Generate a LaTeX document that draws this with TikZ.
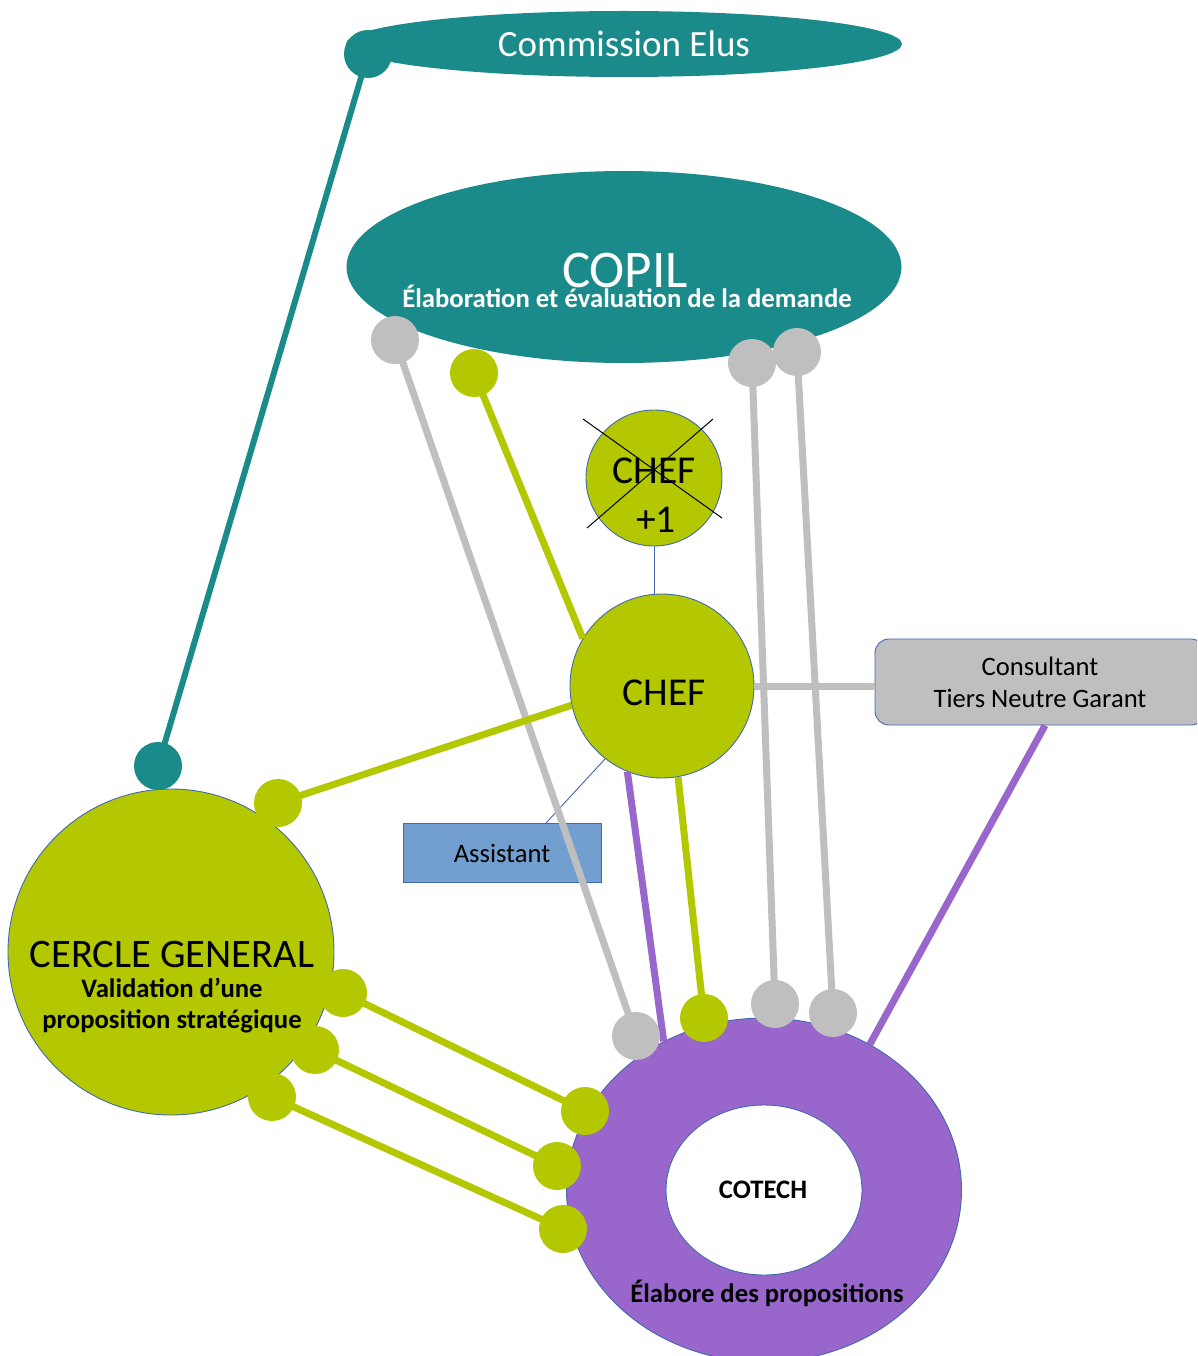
\documentclass[tikz,border=0pt]{standalone}
\usepackage{fontspec}
\setmainfont{Carlito}
\usetikzlibrary{shapes.geometric}
\definecolor{tealc}{RGB}{27,138,138}
\definecolor{limec}{RGB}{179,200,0}
\definecolor{grayc}{RGB}{191,191,191}
\definecolor{purpc}{RGB}{153,102,204}
\definecolor{asstc}{RGB}{114,159,207}
\definecolor{edgec}{RGB}{65,105,175}
\begin{document}
\begin{tikzpicture}[x=1pt,y=-1pt,
  dot/.style={circle,minimum size=48pt,inner sep=0pt},
  gdot/.style={dot,fill=grayc},
  ldot/.style={dot,fill=limec},
  tdot/.style={dot,fill=tealc},
  conn/.style={line width=7pt},
  outl/.style={draw=edgec,line width=0.9pt},
  fine/.style={draw=edgec,line width=0.9pt},
  small/.style={font=\fontsize{26.6}{32}\selectfont},
  smallb/.style={font=\fontsize{26.7}{32}\selectfont\bfseries},
  big/.style={font=\fontsize{39.5}{46}\selectfont},
]
\fill[white] (0,0) rectangle (1197,1356);
\clip (0,0) rectangle (1197,1356);

% main shapes
\node[ellipse,fill=tealc,minimum width=556pt,minimum height=66pt,inner sep=0pt,
  text=white,font=\fontsize{37}{42}\selectfont] (elus) at (624,44) {Commission Elus};
\node[ellipse,fill=tealc,minimum width=555pt,minimum height=192pt,inner sep=0pt] (copil) at (624,267) {};
\node[anchor=base,text=white,font=\fontsize{53}{60}\selectfont] (copilt) at (625,287) {COPIL};
\node[anchor=base,text=white,smallb] (copils) at (627,307) {Élaboration et évaluation de la demande};

\node[circle,fill=limec,outl,minimum size=136pt,inner sep=0pt] (chefp) at (654,478) {};
\node[anchor=base,big] (chefpa) at (654,483) {CHEF};
\node[anchor=base,big] (chefpb) at (656,532) {+1};
\draw[black,line width=1pt] (583,419) -- (722,518);
\draw[black,line width=1pt] (713,419) -- (587,528);

\node[circle,fill=limec,outl,minimum size=184pt,inner sep=0pt] (chef) at (662,686) {};
\node[anchor=base,big] (cheft) at (664,705) {CHEF};

\node[rectangle,rounded corners=14pt,fill=grayc,outl,minimum width=330pt,minimum height=86pt,
  inner sep=0pt,align=center,small] (cons) at (1040,682) {Consultant\\Tiers Neutre Garant};

\node[rectangle,fill=asstc,outl,minimum width=198pt,minimum height=59pt,inner sep=0pt,small] (asst) at (502,853) {Assistant};

\node[circle,fill=limec,outl,minimum size=326pt,inner sep=0pt] (cercle) at (171,952) {};
\node[anchor=base,font=\fontsize{40.5}{46}\selectfont] (cerclet) at (172,967) {CERCLE GENERAL};
\node[anchor=base,smallb] (cerclev) at (172,997) {Validation d’une};
\node[anchor=base,smallb] (cerclep) at (172,1028) {proposition stratégique};

\node[ellipse,fill=purpc,outl,minimum width=395pt,minimum height=344pt,inner sep=0pt] (cotech) at (764,1190) {};
\node[ellipse,fill=white,outl,minimum width=196pt,minimum height=170pt,inner sep=0pt] (cotechin) at (764,1190) {};
\node[anchor=base,smallb] (cotecht) at (763,1198) {COTECH};
\node[anchor=base,smallb] (cotechp) at (767,1302) {Élabore des propositions};

% dot positions
\path
  (368,54) coordinate (pe)
  (158,766) coordinate (pc)
  (395,340) coordinate (pg1)
  (474,373) coordinate (pl1)
  (752,363) coordinate (pg2)
  (797,352) coordinate (pg3)
  (636,1036) coordinate (pk1)
  (704,1018) coordinate (pk2)
  (775,1004) coordinate (pk3)
  (833,1013) coordinate (pk4)
  (278,803) coordinate (pl2)
  (343,993) coordinate (pc1)
  (315,1050) coordinate (pc2)
  (272,1097) coordinate (pc3)
  (585,1111) coordinate (pk5)
  (557,1166) coordinate (pk6)
  (563,1229) coordinate (pk7);

% thin connectors
\draw[fine] (chefp.south) -- (chefp.south |- chef.north);
\draw[fine] (chef.232) -- ([xshift=44pt]asst.north);

% thick connectors
\draw[tealc,line width=6pt] (pe) -- (pc);
\draw[grayc,conn] (pg1) -- (pk1);
\draw[limec,conn] (pl1) -- (chef.149);
\draw[grayc,conn] (pg2) -- (pk3);
\draw[grayc,conn] (pg3) -- (pk4);
\draw[limec,conn] (chef.280) -- (pk2);
\draw[purpc,line width=7pt] (chef.248) -- (cotech.124);
\draw[purpc,line width=7pt] ([xshift=5pt]cons.south) -- (cotech.54);
\draw[limec,conn] (chef.192) -- (pl2);
\draw[grayc,conn] (chef.east) -- (chef.east -| cons.west);
\draw[limec,conn] (pc1) -- (pk5);
\draw[limec,conn] (pc2) -- (pk6);
\draw[limec,conn] (pc3) -- (pk7);

% dots
\node[tdot] (de) at (pe) {};
\node[tdot] (dc) at (pc) {};
\node[gdot] (dg1) at (pg1) {};
\node[ldot] (dl1) at (pl1) {};
\node[gdot] (dg2) at (pg2) {};
\node[gdot] (dg3) at (pg3) {};
\node[gdot] (dk1) at (pk1) {};
\node[ldot] (dk2) at (pk2) {};
\node[gdot] (dk3) at (pk3) {};
\node[gdot] (dk4) at (pk4) {};
\node[ldot] (dl2) at (pl2) {};
\node[ldot] (dc1) at (pc1) {};
\node[ldot] (dc2) at (pc2) {};
\node[ldot] (dc3) at (pc3) {};
\node[ldot] (dk5) at (pk5) {};
\node[ldot] (dk6) at (pk6) {};
\node[ldot] (dk7) at (pk7) {};
\end{tikzpicture}
\end{document}
